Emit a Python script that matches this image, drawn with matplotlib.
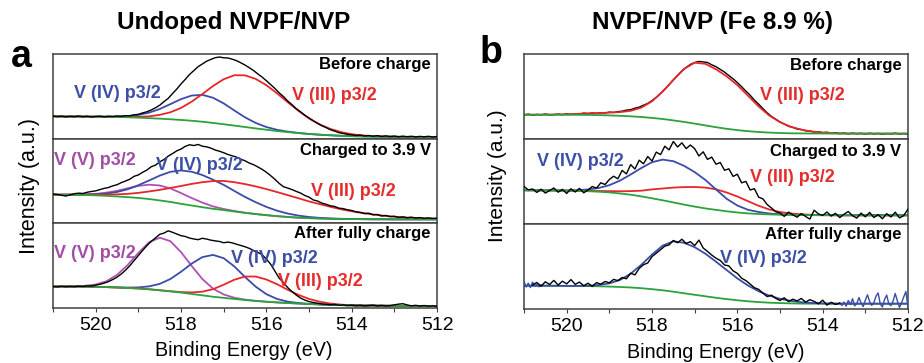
import numpy as np
import matplotlib
matplotlib.use("Agg")
import matplotlib.pyplot as plt
from matplotlib.ticker import MultipleLocator

plt.rcParams['font.family'] = ['Liberation Sans', 'DejaVu Sans']

# binding energy grids (eV): fitted curves every 0.25 eV, raw spectra every 0.1 eV
fit_energy = np.arange(521.0, 511.99, -0.25)

# ---- panel a : undoped, before charge ----
a1_black = [22.8, 22.2, 22.6, 21.9, 22.4, 22.1, 22.7, 22.0, 22.5, 21.8,
            22.3, 22.6, 21.9, 22.5, 22.2, 22.8, 22.4, 23.1, 23.0, 24.0,
            24.4, 25.9, 27.0, 28.8, 31.0, 33.6, 37.2, 40.5, 45.3, 49.8,
            55.0, 59.6, 64.5, 68.4, 72.3, 75.0, 77.8, 79.6, 81.3, 82.0,
            81.2, 81.0, 79.8, 78.3, 76.2, 73.9, 71.2, 68.4, 65.0, 61.8,
            58.2, 54.3, 50.4, 46.0, 42.3, 37.8, 34.2, 30.1, 27.0, 23.6,
            20.8, 17.9, 15.4, 13.0, 11.1, 9.0, 7.6, 6.0, 5.2, 4.3,
            3.9, 3.2, 3.6, 2.7, 3.1, 2.5, 3.0, 2.2, 2.8, 2.1,
            2.6, 1.9, 2.5, 2.0, 2.4, 1.8, 2.3, 1.9, 2.4, 1.7,
            2.2]
a1_green = [22.3, 22.3, 22.3, 22.2, 22.1, 22.0, 21.8, 21.5, 21.1, 20.6, 20.1, 19.5,
            18.8, 18.0, 17.0, 15.8, 14.5, 13.1, 11.7, 10.3, 9.0, 7.7, 6.6, 5.6,
            4.7, 4.0, 3.4, 2.9, 2.5, 2.3, 2.1, 2.0, 1.9, 1.8, 1.8, 1.7, 1.7]
a1_v4 = [0, 0, 0, 0, 0.05, 0.15, 0.5, 1.2, 2.7, 5.5, 9.7, 15.2,
         20.9, 25.3, 27.0, 25.3, 20.9, 15.2, 9.7, 5.5, 2.7, 1.2, 0.5, 0.15,
         0.05, 0, 0, 0, 0, 0, 0, 0, 0, 0, 0, 0, 0]
a1_v3 = [0, 0, 0, 0, 0, 0, 0.1, 0.3, 0.8, 1.8, 3.8, 7.0,
         12.1, 19.2, 27.8, 37.1, 45.2, 50.6, 51.9, 49.7, 44.7, 37.8, 30.0, 22.4,
         15.6, 10.3, 6.4, 3.7, 2.0, 1.0, 0.5, 0.2, 0.1, 0, 0, 0, 0]

# ---- panel a : charged to 3.9 V ----
a2_black = [29.5, 29.0, 28.2, 27.4, 28.6, 29.8, 30.3, 30.0, 31.2, 32.0,
            32.6, 33.9, 35.1, 36.0, 37.6, 38.8, 40.9, 42.5, 44.3, 47.2,
            48.6, 51.3, 53.5, 56.8, 58.4, 61.7, 64.1, 67.5, 70.0, 72.8,
            74.6, 77.3, 78.9, 78.1, 79.2, 77.4, 76.8, 75.5, 73.6, 72.4,
            70.9, 69.1, 67.8, 66.5, 64.4, 62.8, 60.5, 58.9, 56.6, 54.2,
            51.3, 47.9, 44.2, 40.1, 36.8, 35.4, 33.9, 32.1, 30.4, 28.0,
            26.3, 23.5, 22.4, 20.3, 19.1, 17.6, 17.0, 15.2, 14.8, 13.6,
            12.9, 11.5, 11.0, 9.8, 10.2, 8.6, 8.9, 7.4, 7.9, 6.8,
            7.1, 6.0, 6.5, 5.6, 6.2, 5.3, 5.8, 5.0, 5.5, 4.9,
            5.2]
a2_green = [28.7, 28.7, 28.6, 28.4, 28.1, 27.6, 27.0, 26.3, 25.5, 24.4, 23.0, 21.5,
            19.6, 17.9, 16.2, 14.6, 13.3, 11.9, 10.5, 9.3, 8.2, 7.2, 6.4, 5.7,
            5.2, 4.9, 4.6, 4.4, 4.3, 4.2, 4.1, 4.1, 4.0, 4.0, 4.0, 4.0, 4.0]
a2_v5 = [0, 0.1, 0.2, 0.7, 1.5, 3.2, 5.6, 8.9, 12.1, 14.4, 15.0, 13.6,
         10.8, 7.5, 4.6, 2.4, 1.1, 0.45, 0.16, 0.05, 0, 0, 0, 0,
         0, 0, 0, 0, 0, 0, 0, 0, 0, 0, 0, 0, 0]
a2_v4 = [0, 0.1, 0.2, 0.5, 1.1, 2.3, 4.5, 7.9, 12.8, 18.6, 24.9, 30.2,
         33.5, 33.9, 32.3, 29.2, 25.3, 20.6, 16.0, 11.9, 8.3, 5.5, 3.4, 2.1,
         1.2, 0.6, 0.3, 0.15, 0.07, 0, 0, 0, 0, 0, 0, 0, 0]
a2_v3 = [0.05, 0.1, 0.2, 0.4, 0.7, 1.2, 2.1, 3.3, 5.1, 7.6, 10.6, 14.0,
         17.9, 21.7, 25.1, 27.8, 29.3, 29.4, 28.9, 27.8, 26.2, 24.2, 21.9, 19.5,
         16.8, 14.4, 12.0, 9.7, 7.8, 6.2, 4.8, 3.5, 2.6, 1.9, 1.3, 0.9, 0.6]

# ---- panel a : after fully charge ----
a3_black = [21.5, 21.2, 21.7, 21.3, 21.6, 21.4, 21.9, 21.6, 22.2, 22.0,
            22.9, 23.8, 25.0, 26.5, 28.6, 31.0, 34.2, 38.0, 42.5, 47.6,
            52.7, 57.8, 62.6, 66.9, 70.3, 74.0, 75.2, 77.5, 76.0, 74.3,
            72.6, 71.8, 70.2, 69.3, 68.6, 70.0, 69.2, 68.1, 67.4, 66.8,
            65.5, 66.2, 65.4, 64.0, 62.8, 61.5, 59.9, 57.6, 55.8, 53.6,
            49.0, 44.0, 37.0, 30.0, 25.5, 20.5, 16.5, 13.0, 10.0, 8.0,
            6.4, 5.5, 4.8, 4.0, 3.7, 3.2, 3.5, 2.8, 3.1, 2.5,
            2.9, 2.3, 2.7, 2.0, 2.5, 2.9, 2.1, 2.6, 2.0, 2.4,
            3.2, 3.9, 4.3, 3.1, 2.2, 2.7, 2.0, 2.5, 1.8, 2.2,
            1.6]
a3_green = [21.7, 21.7, 21.6, 21.5, 21.3, 21.0, 20.6, 20.1, 19.6, 18.8, 17.8, 16.7,
            15.5, 14.1, 12.7, 11.3, 10.2, 9.1, 8.0, 7.1, 6.3, 5.6, 5.0, 4.5,
            4.0, 3.6, 3.2, 2.9, 2.6, 2.5, 2.4, 2.3, 2.2, 2.1, 2.1, 2.0, 2.0]
a3_v5 = [0, 0.05, 0.2, 0.8, 2.3, 5.8, 12.7, 23.1, 35.7, 47.2, 52.8, 50.4,
         40.6, 28.1, 16.4, 8.1, 3.4, 1.2, 0.4, 0.1, 0, 0, 0, 0,
         0, 0, 0, 0, 0, 0, 0, 0, 0, 0, 0, 0, 0]
a3_v4 = [0, 0, 0, 0, 0, 0, 0.1, 0.4, 1.1, 2.9, 6.4, 12.4,
         20.9, 30.5, 38.4, 42.0, 39.8, 32.6, 23.1, 14.3, 7.6, 3.5, 1.4, 0.5,
         0.15, 0, 0, 0, 0, 0, 0, 0, 0, 0, 0, 0, 0]
a3_v3 = [0, 0, 0, 0, 0, 0, 0, 0, 0, 0, 0.05, 0.15,
         0.5, 1.5, 3.7, 7.6, 13.2, 19.3, 23.6, 24.5, 22.3, 18.3, 13.3, 8.7,
         5.1, 2.7, 1.3, 0.5, 0.2, 0.05, 0, 0, 0, 0, 0, 0, 0]

# ---- panel b : Fe 8.9 %, before charge ----
b1_black = [24.0, 24.9, 23.8, 24.6, 24.2, 25.0, 24.1, 24.4, 24.9, 24.3,
            25.2, 24.6, 25.3, 25.0, 25.9, 25.4, 26.0, 25.6, 26.3, 26.0,
            26.9, 26.5, 27.4, 27.8, 28.9, 29.3, 30.8, 31.9, 33.8, 35.6,
            38.4, 41.7, 45.5, 49.8, 54.3, 59.0, 63.5, 68.0, 71.6, 74.6,
            76.5, 77.6, 77.1, 76.5, 74.2, 72.3, 69.6, 66.9, 63.5, 60.2,
            56.4, 52.3, 47.9, 43.8, 38.9, 34.8, 30.4, 26.2, 22.6, 19.8,
            17.1, 14.9, 12.7, 11.6, 10.0, 9.5, 8.2, 8.0, 6.9, 7.3,
            6.2, 6.8, 5.6, 6.3, 5.3, 6.0, 5.1, 5.9, 5.2, 5.7,
            4.9, 5.8, 5.0, 5.6, 4.8, 5.5, 5.1, 5.9, 4.9, 5.4,
            4.6]
b1_green = [24.3, 24.3, 24.3, 24.3, 24.2, 24.2, 24.1, 23.9, 23.6, 23.2, 22.7, 22.0,
            21.1, 20.0, 18.6, 17.1, 15.4, 13.6, 11.8, 10.2, 8.9, 7.8, 7.0, 6.4,
            6.0, 5.7, 5.6, 5.5, 5.5, 5.4, 5.4, 5.4, 5.4, 5.4, 5.4, 5.4, 5.4]
b1_v3 = [0, 0, 0, 0.2, 0.5, 0.9, 1.5, 2.0, 2.8, 3.7, 5.5, 9.4,
         16.6, 27.4, 40.5, 53.0, 60.9, 61.6, 57.9, 52.5, 45.0, 35.5, 25.5, 17.0,
         10.8, 6.6, 3.7, 2.0, 1.0, 0.5, 0.2, 0.1, 0, 0, 0, 0, 0]

# ---- panel b : charged to 3.9 V ----
b2_black = [37.5, 34.2, 35.0, 31.6, 34.8, 30.9, 33.5, 36.0, 31.8, 34.6,
            30.5, 35.2, 32.0, 35.6, 31.2, 34.0, 37.5, 35.9, 41.2, 39.5,
            44.5, 47.8, 45.2, 53.6, 50.1, 59.4, 55.0, 63.8, 60.2, 67.5,
            63.0, 71.9, 69.4, 77.8, 74.1, 82.5, 77.0, 81.2, 75.4, 79.0,
            75.3, 68.0, 72.2, 64.6, 66.9, 59.8, 61.5, 53.7, 55.2, 47.6,
            49.8, 41.2, 42.6, 34.0, 35.3, 26.8, 25.1, 19.4, 16.0, 12.2,
            11.0, 7.6, 11.9, 9.2, 6.8, 10.4, 7.5, 4.9, 13.8, 10.1,
            8.6, 12.0, 7.9, 10.7, 6.4, 9.8, 12.5, 8.3, 5.9, 10.9,
            7.2, 11.6, 6.5, 9.4, 5.2, 10.3, 7.0, 11.8, 6.1, 8.4,
            15.0]
b2_green = [33.7, 33.7, 33.6, 33.5, 33.3, 33.1, 32.8, 32.3, 31.6, 30.5, 29.3, 27.6,
            25.7, 23.7, 21.6, 19.4, 17.4, 15.6, 14.1, 12.7, 11.5, 10.6, 10.0, 9.6,
            9.3, 9.1, 9.0, 8.9, 8.8, 8.8, 8.7, 8.7, 8.7, 8.7, 8.7, 8.7, 8.7]
b2_v4 = [0, 0, 0.03, 0.1, 0.25, 0.7, 1.7, 3.7, 7.2, 12.9, 20.2, 28.4,
         36.1, 40.7, 41.2, 38.8, 34.5, 28.5, 20.5, 12.5, 7.0, 3.6, 2.0, 0.9,
         0.4, 0.15, 0, 0, 0, 0, 0, 0, 0, 0, 0, 0, 0]
b2_v3 = [0, 0, 0, 0, 0, 0.1, 0.3, 0.7, 1.3, 2.2, 3.6, 5.7,
         8.9, 11.8, 14.8, 17.5, 19.6, 20.8, 20.6, 18.8, 16.0, 12.2, 8.2, 4.9,
         2.7, 1.4, 0.7, 0.3, 0.1, 0, 0, 0, 0, 0, 0, 0, 0]

# ---- panel b : after fully charge ----
b3_black_energy = (520.8, 513.6)
b3_black = [24.0, 26.5, 22.8, 27.2, 24.5, 28.6, 23.9, 27.8, 25.1, 29.4,
            24.6, 26.9, 23.2, 25.8, 22.5, 26.4, 24.8, 27.5, 26.2, 29.6,
            28.4, 31.5, 30.2, 35.8, 34.1, 40.6, 44.3, 46.0, 52.4, 55.8,
            59.3, 62.9, 64.1, 68.5, 66.2, 69.8, 65.5, 67.3, 63.4, 68.9,
            61.0, 57.6, 53.9, 50.8, 48.5, 44.0, 43.1, 38.2, 35.6, 30.8,
            28.4, 24.9, 21.3, 19.6, 15.8, 12.4, 13.9, 10.6, 8.5, 11.2,
            7.4, 9.8, 8.1, 10.5, 6.9, 9.3, 7.6, 5.2, 8.8, 3.9,
            6.7, 4.5, 5.8]
b3_green = [23.3, 23.3, 23.3, 23.2, 23.1, 23.0, 22.9, 22.7, 22.4, 22.0, 21.5, 20.8,
            19.8, 18.7, 17.3, 15.7, 14.2, 12.7, 11.2, 9.9, 8.7, 7.7, 6.9, 6.3,
            5.9, 5.6, 5.4, 5.3, 5.3, 5.3, 5.3, 5.3, 5.3, 5.3, 5.3, 5.3, 5.3]
b3_v4 = [0, 0, 0, 0, 0, 0.1, 0.4, 1.3, 3.2, 7.0, 13.8, 23.4,
         34.6, 44.7, 50.4, 50.5, 47.6, 42.6, 36.1, 29.0, 21.9, 15.8, 10.8, 7.0,
         4.3, 2.5, 1.4, 0.7, 0.3, 0.15, 0, 0, 0, 0, 0, 0, 0]
# blue trace shown outside the black data range
b3_blue_left_energy = (521.0, 520.6)
b3_blue_left = [27.5, 22.0, 25.8, 21.4, 26.9, 23.0, 24.6, 22.2, 24.0]
b3_blue_right_energy = (513.6, 512.0)
b3_blue_right = [5.8, 3.5, 6.9, 2.8, 8.5, 4.4, 10.2, 3.1, 5.6, 11.5, 6.0, 2.4,
                 8.8, 14.2, 7.3, 3.6, 6.5, 12.8, 16.0, 4.9, 2.0, 9.5, 13.9, 5.1,
                 3.3, 7.8, 15.5, 8.2, 1.5, 6.3, 12.1, 17.5, 1.0]

RED = '#e8262a'
BLUE = '#3a4ca8'
PURPLE = '#b050b4'
GREEN = '#2aa33a'
RED_TXT = '#e52d2d'
BLUE_TXT = '#3c4fa6'
PURPLE_TXT = '#a24ea6'

fig = plt.figure(figsize=(9.24, 3.63), dpi=100)


def make_column(left, bottom, width, height):
    h = height / 3.0
    axs = []
    for k in range(3):
        ax = fig.add_axes([left, bottom + (2 - k) * h, width, h])
        ax.set_xlim(521, 512)
        ax.set_ylim(0, 85)
        ax.set_yticks([])
        for s in ax.spines.values():
            s.set_color('#404040')
            s.set_linewidth(1.1)
        ax.xaxis.set_major_locator(MultipleLocator(2))
        ax.xaxis.set_minor_locator(MultipleLocator(1))
        if k < 2:
            ax.tick_params(which='both', bottom=False, labelbottom=False)
        else:
            ax.tick_params(which='both', direction='out', length=3, width=0.8,
                           labelsize=14, pad=3.5, color='#404040')
        axs.append(ax)
    return axs


def raw(ax, values, span=(521.0, 512.0), color='black', z=4):
    e = np.linspace(span[0], span[1], len(values))
    ax.plot(e, values, color=color, lw=1.0, zorder=z)


def fits(ax, green, comps, green_top=True):
    g = np.array(green)
    for comp, color in comps:
        ax.plot(fit_energy, g + np.array(comp), color=color, lw=1.3, zorder=2)
    ax.plot(fit_energy, g, color=GREEN, lw=1.3, zorder=2.5 if green_top else 1.5)


def label(ax, x, y, s, color, ha='left', size=13):
    ax.text(x, y, s, color=color, fontsize=size, fontweight='bold', ha=ha, va='center', zorder=6)


def header(ax, y, s):
    label(ax, 512.15, y, s, 'black', ha='right', size=12)


axa = make_column(0.0574, 0.1515, 0.4156, 0.6997)
axb = make_column(0.5671, 0.1488, 0.4156, 0.7024)

# panel a
raw(axa[0], a1_black)
fits(axa[0], a1_green, [(a1_v4, BLUE), (a1_v3, RED)])
header(axa[0], 74, 'Before charge')
label(axa[0], 520.5, 45, 'V (IV) p3/2', BLUE_TXT)
label(axa[0], 515.4, 43, 'V (III) p3/2', RED_TXT)

raw(axa[1], a2_black)
fits(axa[1], a2_green, [(a2_v5, PURPLE), (a2_v4, BLUE), (a2_v3, RED)])
header(axa[1], 73, 'Charged to 3.9 V')
label(axa[1], 520.97, 63.5, 'V (V) p3/2', PURPLE_TXT)
label(axa[1], 518.58, 58.5, 'V (IV) p3/2', BLUE_TXT)
label(axa[1], 514.95, 32, 'V (III) p3/2', RED_TXT)

raw(axa[2], a3_black)
fits(axa[2], a3_green, [(a3_v5, PURPLE), (a3_v4, BLUE), (a3_v3, RED)])
header(axa[2], 74.5, 'After fully charge')
label(axa[2], 520.97, 54.5, 'V (V) p3/2', PURPLE_TXT)
label(axa[2], 516.84, 49.5, 'V (IV) p3/2', BLUE_TXT)
label(axa[2], 515.72, 26.5, 'V (III) p3/2', RED_TXT)

# panel b
raw(axb[0], b1_black, z=1)
fits(axb[0], b1_green, [(b1_v3, RED)])
header(axb[0], 74, 'Before charge')
label(axb[0], 515.47, 43.5, 'V (III) p3/2', RED_TXT)

raw(axb[1], b2_black)
fits(axb[1], b2_green, [(b2_v3, RED), (b2_v4, BLUE)])
header(axb[1], 73, 'Charged to 3.9 V')
label(axb[1], 520.7, 63, 'V (IV) p3/2', BLUE_TXT)
label(axb[1], 515.7, 46.5, 'V (III) p3/2', RED_TXT)

raw(axb[2], b3_black, span=b3_black_energy)
fits(axb[2], b3_green, [(b3_v4, BLUE)], green_top=False)
raw(axb[2], b3_blue_left, span=b3_blue_left_energy, color=BLUE, z=3)
raw(axb[2], b3_blue_right, span=b3_blue_right_energy, color=BLUE, z=3)
header(axb[2], 74.5, 'After fully charge')
label(axb[2], 516.41, 50.5, 'V (IV) p3/2', BLUE_TXT)

# titles, panel letters and axis labels
fig.text(234 / 924, 1 - 23 / 363, 'Undoped NVPF/NVP', fontsize=17.5, fontweight='bold',
         ha='center', va='center')
fig.text(713 / 924, 1 - 23 / 363, 'NVPF/NVP (Fe 8.9 %)', fontsize=17.5, fontweight='bold',
         ha='center', va='center')
fig.text(11 / 924, 1 - 67 / 363, 'a', fontsize=27, fontweight='bold', ha='left', va='baseline')
fig.text(480 / 924, 1 - 63 / 363, 'b', fontsize=27, fontweight='bold', ha='left', va='baseline')
fig.text(29.5 / 924, 1 - 185.5 / 363, 'Intensity (a.u.)', fontsize=15.5, rotation=90,
         ha='center', va='center')
fig.text(497.5 / 924, 1 - 175.5 / 363, 'Intensity (a.u.)', fontsize=15, rotation=90,
         ha='center', va='center')
fig.text(244 / 924, 1 - 350 / 363, 'Binding Energy (eV)', fontsize=14.2, ha='center', va='center')
fig.text(716 / 924, 1 - 352 / 363, 'Binding Energy (eV)', fontsize=14.2, ha='center', va='center')

fig.savefig('out.png', dpi=100)
